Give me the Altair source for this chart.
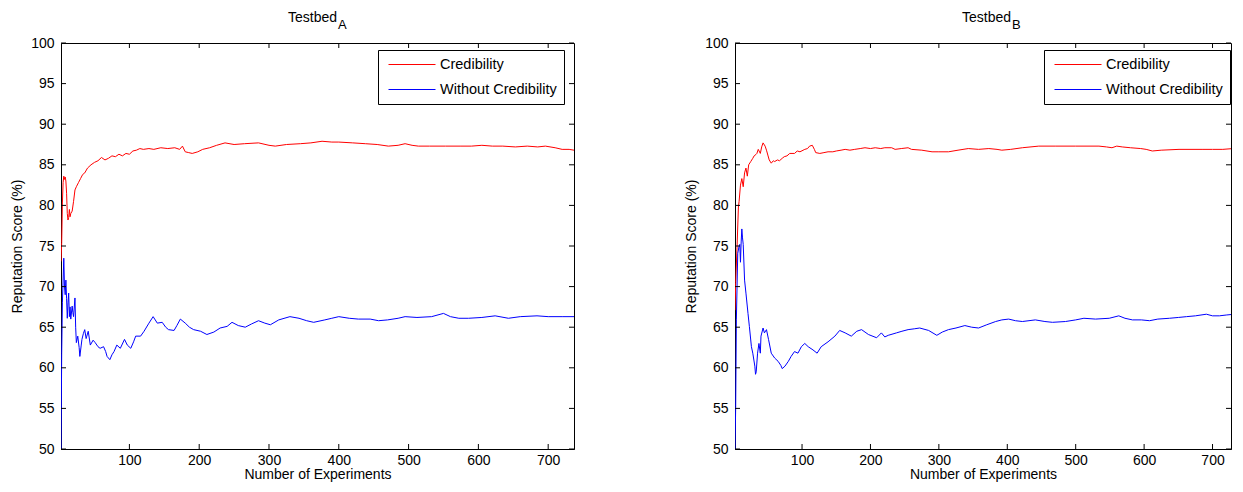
import altair as alt
import pandas as pd

FONT = "Liberation Sans"

series_names = ["Credibility", "Without Credibility"]
series_colors = ["#ff0000", "#0000ff"]
x_tick_values = [100, 200, 300, 400, 500, 600, 700]
y_tick_values = [50, 55, 60, 65, 70, 75, 80, 85, 90, 95, 100]
x_label = "Number of Experiments"
y_label = "Reputation Score (%)"

# ---- Testbed A ----
a_cred_n = [2, 3, 4, 5, 6, 7, 8, 9, 10, 11, 12, 13, 14, 15, 16, 18, 20, 22, 24, 27, 30, 33, 36, 40, 45,
            50, 55, 60, 65, 70, 75, 80, 85, 90, 95, 100, 105, 110, 115, 120, 128, 135, 145, 155, 165,
            172, 176, 180, 185, 190, 198, 205, 215, 225, 237, 250, 265, 285, 300, 309, 325, 345, 360,
            376, 390, 400, 420, 438, 455, 471, 485, 495, 505, 514, 530, 553, 575, 590, 605, 620, 635,
            653, 670, 685, 696, 710, 720, 730, 737]
a_cred_v = [73.1, 75.4, 80.3, 82.8, 83.6, 83.2, 83.5, 83.0, 81.5, 79.0, 78.2, 78.5, 79.5, 78.6, 79.0,
            79.3, 80.5, 81.9, 82.3, 82.8, 83.3, 83.8, 84.0, 84.6, 85.0, 85.3, 85.5, 85.9, 85.6, 85.8,
            86.1, 86.0, 86.3, 86.1, 86.4, 86.3, 86.7, 86.8, 87.0, 86.9, 87.0, 86.9, 87.1, 87.0, 87.1,
            86.9, 87.3, 86.6, 86.5, 86.4, 86.6, 86.9, 87.1, 87.4, 87.7, 87.5, 87.6, 87.7, 87.4, 87.3,
            87.5, 87.6, 87.7, 87.9, 87.8, 87.8, 87.7, 87.6, 87.5, 87.3, 87.4, 87.6, 87.4, 87.3, 87.3,
            87.3, 87.3, 87.3, 87.4, 87.3, 87.3, 87.2, 87.3, 87.2, 87.3, 87.1, 86.9, 86.9, 86.8]
a_wo_n = [2, 3, 4, 6, 7, 8, 9, 10, 11, 12, 13, 14, 15, 16, 18, 19, 20, 22, 23, 24, 26, 28, 29, 31, 32,
          34, 36, 38, 39, 41, 44, 48, 51, 55, 58, 63, 66, 68, 72, 75, 78, 82, 87, 93, 97, 102, 106, 109,
          116, 121, 128, 134, 140, 147, 152, 156, 164, 168, 173, 180, 186, 192, 202, 211, 221, 230, 240,
          247, 256, 266, 275, 285, 294, 302, 314, 330, 343, 354, 364, 380, 390, 400, 415, 428, 445, 457,
          470, 485, 495, 512, 533, 550, 560, 572, 586, 605, 624, 643, 660, 684, 700, 720, 737]
a_wo_v = [50.0, 61.8, 68.0, 73.5, 70.0, 69.0, 70.8, 68.5, 66.1, 68.0, 69.2, 66.3, 67.5, 66.0, 67.6,
          66.8, 66.3, 68.6, 65.0, 63.1, 63.9, 62.5, 61.4, 62.8, 63.5, 64.2, 64.7, 63.6, 63.9, 64.5,
          62.8, 63.4, 63.1, 62.6, 62.4, 62.6, 62.0, 61.4, 61.0, 61.6, 62.0, 62.8, 62.4, 63.5, 62.8,
          62.4, 63.2, 63.9, 63.9, 64.5, 65.5, 66.3, 65.5, 65.6, 65.0, 64.7, 64.6, 65.2, 66.0, 65.5,
          65.0, 64.7, 64.5, 64.1, 64.4, 64.9, 65.1, 65.6, 65.2, 65.0, 65.4, 65.8, 65.5, 65.3, 65.9,
          66.3, 66.1, 65.8, 65.6, 65.9, 66.1, 66.3, 66.1, 66.0, 66.0, 65.8, 65.9, 66.1, 66.3, 66.2,
          66.3, 66.7, 66.3, 66.1, 66.1, 66.2, 66.4, 66.1, 66.3, 66.4, 66.3, 66.3, 66.3]

# ---- Testbed B ----
b_cred_n = [2, 3, 5, 7, 8, 10, 12, 14, 16, 18, 20, 22, 25, 28, 30, 33, 34, 36, 39, 41, 43, 46, 48, 50,
            52, 55, 58, 60, 64, 67, 71, 74, 78, 82, 89, 93, 97, 104, 108, 111, 115, 118, 120, 126, 132,
            138, 145, 150, 157, 163, 170, 177, 185, 192, 200, 207, 215, 221, 231, 236, 245, 255, 260,
            275, 290, 300, 314, 328, 343, 358, 373, 385, 392, 405, 422, 446, 470, 500, 534, 545, 553,
            560, 568, 580, 595, 603, 612, 625, 651, 670, 686, 700, 715, 730, 742]
b_cred_v = [67.1, 70.5, 74.9, 79.8, 80.5, 82.5, 83.3, 82.3, 84.0, 84.6, 83.6, 85.0, 85.4, 85.8, 86.1,
            86.3, 86.4, 86.9, 86.4, 87.2, 87.7, 87.3, 86.8, 86.2, 85.6, 85.2, 85.5, 85.4, 85.6, 85.5,
            85.8, 86.0, 86.1, 86.4, 86.4, 86.7, 86.6, 86.9, 87.0, 87.3, 87.4, 86.9, 86.5, 86.4, 86.5,
            86.6, 86.6, 86.7, 86.8, 86.9, 86.8, 86.9, 87.0, 87.1, 87.0, 87.1, 87.0, 87.1, 87.1, 86.9,
            87.0, 87.1, 86.9, 86.8, 86.6, 86.6, 86.6, 86.8, 87.0, 86.9, 87.0, 86.9, 86.8, 86.9, 87.1,
            87.3, 87.3, 87.3, 87.3, 87.2, 87.1, 87.3, 87.2, 87.1, 87.0, 86.9, 86.7, 86.8, 86.9, 86.9,
            86.9, 86.9, 86.9, 87.0, 87.1]
b_wo_n = [2, 3, 4, 6, 8, 9, 10, 11, 12, 13, 14, 16, 18, 21, 23, 26, 28, 31, 32, 33, 35, 37, 39, 40, 43,
          45, 48, 51, 55, 60, 65, 69, 71, 75, 80, 84, 89, 94, 99, 104, 109, 116, 122, 128, 138, 148, 155,
          163, 172, 180, 187, 197, 209, 216, 221, 226, 238, 246, 255, 264, 272, 285, 297, 305, 314, 325,
          338, 348, 358, 370, 383, 392, 402, 412, 422, 441, 455, 466, 485, 500, 512, 529, 549, 563, 572,
          583, 596, 608, 620, 637, 650, 662, 675, 691, 700, 710, 720, 732, 742]
b_wo_v = [50.0, 55.2, 65.9, 74.1, 75.0, 75.2, 73.0, 75.5, 77.1, 76.0, 75.2, 70.8, 69.2, 66.7, 65.1,
          62.6, 61.8, 60.2, 59.2, 59.5, 61.8, 63.0, 61.8, 63.9, 64.9, 64.3, 64.7, 63.5, 61.8, 61.2,
          60.8, 60.3, 59.9, 60.2, 60.8, 61.4, 62.0, 61.8, 62.6, 63.0, 62.6, 62.2, 61.8, 62.6, 63.2,
          63.9, 64.6, 64.3, 63.9, 64.5, 64.7, 64.1, 63.7, 64.3, 63.8, 64.0, 64.3, 64.5, 64.7, 64.8,
          64.9, 64.6, 64.0, 64.4, 64.7, 64.9, 65.2, 65.0, 64.9, 65.3, 65.7, 65.9, 66.0, 65.8, 65.7,
          65.9, 65.7, 65.6, 65.7, 65.9, 66.1, 66.0, 66.1, 66.4, 66.1, 65.9, 65.9, 65.8, 66.0, 66.1,
          66.2, 66.3, 66.4, 66.6, 66.4, 66.4, 66.5, 66.6, 66.5]

PLOT_H = 406


def panel(cred_n, cred_v, wo_n, wo_v, x_min, x_max, width, title_main, title_sub, legend_x):
    df = pd.concat([
        pd.DataFrame({"n": cred_n, "v": cred_v, "series": series_names[0]}),
        pd.DataFrame({"n": wo_n, "v": wo_v, "series": series_names[1]}),
    ])
    x_scale = alt.Scale(domain=[x_min, x_max], nice=False, zero=False)
    y_scale = alt.Scale(domain=[50, 100], nice=False, zero=False)

    lines = alt.Chart(df).mark_line(strokeWidth=1, clip=True).encode(
        x=alt.X("n:Q", scale=x_scale,
                axis=alt.Axis(values=x_tick_values, title=x_label, format="d")),
        y=alt.Y("v:Q", scale=y_scale,
                axis=alt.Axis(values=y_tick_values, title=y_label, format="d")),
        color=alt.Color("series:N",
                        scale=alt.Scale(domain=series_names, range=series_colors),
                        legend=alt.Legend(orient="none", legendX=legend_x, legendY=7,
                                          title=None,
                                          strokeColor="black", fillColor="white",
                                          padding=7, symbolType="stroke", symbolSize=2209,
                                          symbolOffset=3, clipHeight=15,
                                          symbolStrokeWidth=1, labelFontSize=14.5,
                                          labelFont=FONT, labelColor="black",
                                          rowPadding=9, labelOffset=4)),
    )

    xt = pd.DataFrame({"n": x_tick_values})
    yt = pd.DataFrame({"v": y_tick_values})
    bottom = alt.Chart(xt).mark_rule(color="black", strokeWidth=1).encode(
        x=alt.X("n:Q", scale=x_scale), y=alt.value(PLOT_H), y2=alt.value(PLOT_H - 5))
    top = alt.Chart(xt).mark_rule(color="black", strokeWidth=1).encode(
        x=alt.X("n:Q", scale=x_scale), y=alt.value(0), y2=alt.value(5))
    left = alt.Chart(yt).mark_rule(color="black", strokeWidth=1).encode(
        y=alt.Y("v:Q", scale=y_scale), x=alt.value(0), x2=alt.value(5))
    right = alt.Chart(yt).mark_rule(color="black", strokeWidth=1).encode(
        y=alt.Y("v:Q", scale=y_scale), x=alt.value(width - 5), x2=alt.value(width))

    tdf = pd.DataFrame({"main": [title_main], "sub": [title_sub]})
    t1 = alt.Chart(tdf).mark_text(align="right", baseline="alphabetic", fontSize=14,
                                  font=FONT, color="black").encode(
        text="main:N", x=alt.value(276), y=alt.value(-21))
    t2 = alt.Chart(tdf).mark_text(align="left", baseline="alphabetic", fontSize=13,
                                  font=FONT, color="black").encode(
        text="sub:N", x=alt.value(277), y=alt.value(-14))

    return alt.layer(lines, bottom, top, left, right, t1, t2).properties(
        width=width, height=PLOT_H)


pa = panel(a_cred_n, a_cred_v, a_wo_n, a_wo_v, 2, 737, 513, "Testbed", "A", 317)
pb = panel(b_cred_n, b_cred_v, b_wo_n, b_wo_v, 2, 727, 496, "Testbed", "B", 309)

chart = alt.hconcat(pa, pb, spacing=109).resolve_legend(
    color="independent"
).resolve_scale(
    x="independent", y="independent", color="independent"
).properties(
    padding={"left": 2, "top": 2, "right": 0, "bottom": 0},
    background="white"
).configure_view(
    stroke="black", strokeWidth=1
).configure_axis(
    grid=False, ticks=False, domain=True, domainColor="black", domainWidth=1,
    labelFont=FONT, labelFontSize=14, labelColor="black", labelPadding=7,
    titleFont=FONT, titleFontSize=14, titleColor="black", titleFontWeight="normal",
    titlePadding=6
).configure_axisX(
    labelPadding=4, titlePadding=0
)

chart.save("out.html", embed_options={"renderer": "svg", "actions": False})
